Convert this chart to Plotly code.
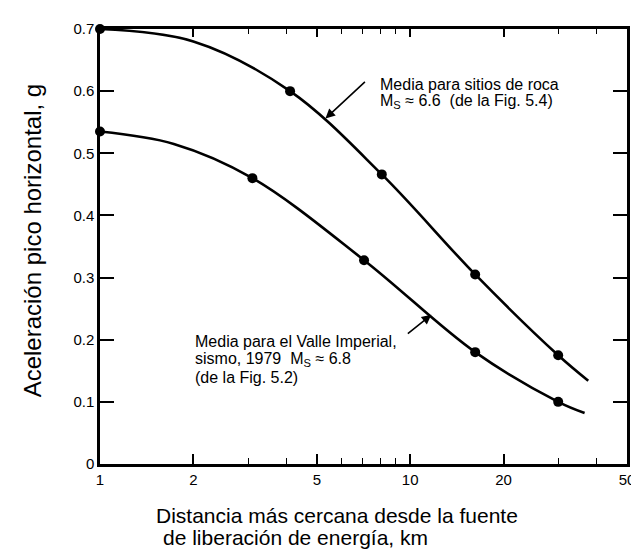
import math
import plotly.graph_objects as go

# ---- data (distance km, peak horizontal acceleration g) ----
rock_curve_x = [1.0, 2.0, 4.1, 8.1, 16.2, 30.0, 37.5]
rock_curve_y = [0.700, 0.680, 0.600, 0.466, 0.305, 0.175, 0.134]
rock_pts_x = [1.0, 4.1, 8.1, 16.2, 30.0]
rock_pts_y = [0.700, 0.600, 0.466, 0.305, 0.175]

iv_curve_x = [1.0, 1.73, 3.1, 7.1, 16.2, 30.0, 36.5]
iv_curve_y = [0.535, 0.515, 0.460, 0.328, 0.180, 0.100, 0.082]
iv_pts_x = [1.0, 3.1, 7.1, 16.2, 30.0]
iv_pts_y = [0.535, 0.460, 0.328, 0.180, 0.100]

x_ticks = [1, 2, 5, 10, 20, 50]
x_tick_labels = ["1", "2", "5", "10", "20", "50"]
y_ticks = [0, 0.1, 0.2, 0.3, 0.4, 0.5, 0.6, 0.7]
y_tick_labels = ["0", "0.1", "0.2", "0.3", "0.4", "0.5", "0.6", "0.7"]

rock_lines = ["Media para sitios de roca", "M<sub>S</sub> ≈ 6.6  (de la Fig. 5.4)"]
iv_lines = ["Media para el Valle Imperial,", "sismo, 1979  M<sub>S</sub> ≈ 6.8", "(de la Fig. 5.2)"]
x_title_lines = ["Distancia más cercana desde la fuente", "de liberación de energía, km"]
y_title = "Aceleración pico horizontal, g"
rock_arrow_head = (5.33, 0.556)
iv_arrow_head = (11.7, 0.240)

# ---- layout geometry (pixels) ----
W, H = 639, 550
L, R, T, B = 92, 18, 15, 94
PW, PH = W - L - R, H - T - B


def px(xp):
    return (xp - L) / PW


def py(yp):
    return (H - B - yp) / PH


FONT = "Liberation Sans, Arial, sans-serif"
XR = [0, math.log10(50)]

fig = go.Figure()
for cx, cy in [(rock_curve_x, rock_curve_y), (iv_curve_x, iv_curve_y)]:
    fig.add_trace(go.Scatter(x=cx, y=cy, mode="lines",
                             line=dict(color="black", width=2.6, shape="spline", smoothing=1.0),
                             cliponaxis=False, hoverinfo="skip"))
for ptx, pty in [(rock_pts_x, rock_pts_y), (iv_pts_x, iv_pts_y)]:
    fig.add_trace(go.Scatter(x=ptx, y=pty, mode="markers",
                             marker=dict(color="black", size=10, symbol="circle"),
                             cliponaxis=False))
# invisible trace so the top (mirror) axis with minor ticks is drawn
fig.add_trace(go.Scatter(x=[x_ticks[0]], y=[y_ticks[0]], xaxis="x2", mode="markers",
                         marker=dict(opacity=0), hoverinfo="skip"))

tick_common = dict(tickwidth=1.5, tickcolor="black", showgrid=False, zeroline=False)
fig.update_layout(
    width=W, height=H,
    margin=dict(l=L, r=R, t=T, b=B),
    paper_bgcolor="white", plot_bgcolor="white",
    showlegend=False,
    font=dict(family=FONT, color="black", size=15),
    xaxis=dict(type="log", range=XR, tickvals=x_ticks, ticktext=x_tick_labels,
               ticks="inside", ticklen=10,
               minor=dict(ticks="inside", ticklen=6, tickwidth=1, tickcolor="black", dtick="D1"),
               showline=True, linewidth=2.5, linecolor="black",
               tickfont=dict(family=FONT, size=15, color="black"), **tick_common),
    xaxis2=dict(type="log", range=XR, overlaying="x", side="top", tickvals=x_ticks,
                showticklabels=False, ticks="inside", ticklen=8,
                minor=dict(ticks="inside", ticklen=5, tickwidth=1, tickcolor="black", dtick="D1"),
                showline=True, linewidth=2.5, linecolor="black", **tick_common),
    yaxis=dict(range=[0, 0.7], tickvals=y_ticks, ticktext=y_tick_labels,
               ticks="inside", ticklen=14, mirror="ticks",
               showline=True, linewidth=2.5, linecolor="black",
               tickfont=dict(family=FONT, size=15, color="black"), **tick_common),
)

# curve labels, one annotation per line for the tight line spacing of the original
for i, t in enumerate(rock_lines):
    fig.add_annotation(xref="paper", yref="paper", x=px(371), y=py(71 + 18 * i),
                       xanchor="left", yanchor="middle", text=t, showarrow=False,
                       font=dict(family=FONT, size=16, color="black"))
for i, t in enumerate(iv_lines):
    fig.add_annotation(xref="paper", yref="paper", x=px(185), y=py(332 + 18 * i),
                       xanchor="left", yanchor="middle", text=t, showarrow=False,
                       font=dict(family=FONT, size=16, color="black"))

# arrows pointing at the curves
fig.add_annotation(x=math.log10(rock_arrow_head[0]), y=rock_arrow_head[1], text="",
                   showarrow=True, arrowhead=2, arrowsize=1.2, arrowwidth=1.6, arrowcolor="black",
                   ax=41, ay=-38, axref="pixel", ayref="pixel")
fig.add_annotation(x=math.log10(iv_arrow_head[0]), y=iv_arrow_head[1], text="",
                   showarrow=True, arrowhead=2, arrowsize=1.2, arrowwidth=1.6, arrowcolor="black",
                   ax=-25, ay=20, axref="pixel", ayref="pixel")

# axis titles
fig.add_annotation(xref="paper", yref="paper", x=px(24), y=py(229), xanchor="center", yanchor="middle",
                   text=y_title, textangle=-90, showarrow=False,
                   font=dict(family=FONT, size=24, color="black"))
for i, (t, x0) in enumerate(zip(x_title_lines, [146, 153])):
    fig.add_annotation(xref="paper", yref="paper", x=px(x0), y=py(508 + 23 * i),
                       xanchor="left", yanchor="middle", text=t, showarrow=False,
                       font=dict(family=FONT, size=21, color="black"))

fig.write_html("out.html")
